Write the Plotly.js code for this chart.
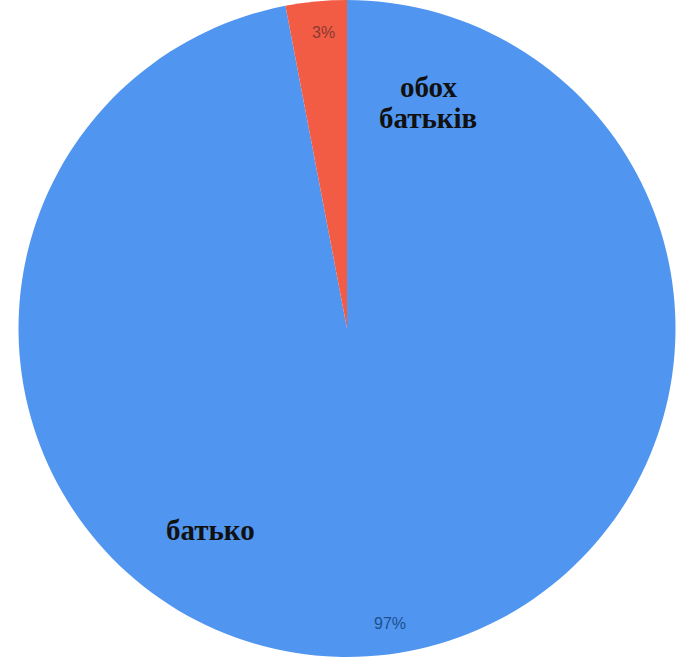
<!DOCTYPE html>
<html>
<head>
<meta charset="utf-8">
<script src="https://cdn.plot.ly/plotly-3.0.1.min.js"></script>
<style>html,body{margin:0;padding:0;background:#fff;}#chart{width:678px;height:657px;}</style>
</head>
<body>
<div id="chart"></div>
<script>
const categories = ["батько", "обох батьків"];
const values = [97, 3];
const percentLabels = ["97%", "3%"];
const sliceColors = ["#5096f0", "#f25c45"];

const trace = {
  type: "pie",
  labels: categories,
  values: values,
  sort: false,
  direction: "clockwise",
  rotation: 0,
  textinfo: "none",
  hoverinfo: "label+percent",
  marker: { colors: sliceColors, line: { width: 0 } },
  domain: { x: [0.0273, 0.9963], y: [0, 1] },
  showlegend: false
};

const nameFont = { family: "Liberation Serif, Times New Roman, serif", size: 29, color: "#111111" };
const pctFont = { family: "Liberation Sans, Arial, sans-serif", size: 16 };
function ann(x, y, text, font) {
  return { xref: "paper", yref: "paper", x: x / 678, y: 1 - y / 657, xanchor: "center", yanchor: "middle",
           text: text, showarrow: false, font: font };
}
const secondWords = categories[1].split(" ");
const layout = {
  width: 678, height: 657,
  margin: { l: 0, r: 0, t: 0, b: 0 },
  paper_bgcolor: "#ffffff",
  showlegend: false,
  annotations: [
    ann(210, 530, "<b>" + categories[0] + "</b>", nameFont),
    ann(428, 87, "<b>" + secondWords[0] + "</b>", nameFont),
    ann(428, 118, "<b>" + secondWords[1] + "</b>", nameFont),
    ann(390, 623, percentLabels[0], Object.assign({ color: "#1f4f8f" }, pctFont)),
    ann(323, 32, percentLabels[1], Object.assign({ color: "#8a3a2e" }, pctFont))
  ]
};

Plotly.newPlot("chart", [trace], layout, { displayModeBar: false, staticPlot: true });
</script>
</body>
</html>
